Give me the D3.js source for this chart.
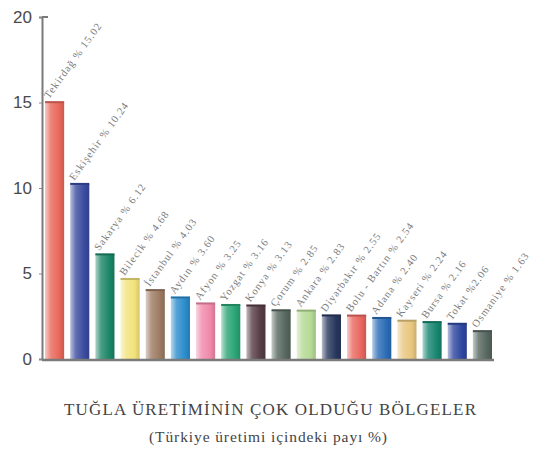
<!DOCTYPE html>
<html>
<head>
<meta charset="utf-8">
<script src="https://cdn.jsdelivr.net/npm/d3@7"></script>
<style>
  body {margin:0; background:#fff;}
  svg {display:block;}
</style>
</head>
<body>
<svg width="546" height="459"></svg>
<script>
// bölgeler ve payları (%)
var regions = ["Tekirdağ", "Eskişehir", "Sakarya", "Bilecik", "İstanbul", "Aydın", "Afyon", "Yozgat", "Konya",
               "Çorum", "Ankara", "Diyarbakır", "Bolu - Bartın", "Adana", "Kayseri", "Bursa", "Tokat", "Osmaniye"];
var shares = [15.02, 10.24, 6.12, 4.68, 4.03, 3.60, 3.25, 3.16, 3.13, 2.85, 2.83, 2.55, 2.54, 2.40, 2.24, 2.16, 2.06, 1.63];
var labels = ["% 15.02", "% 10.24", "% 6.12", "% 4.68", "% 4.03", "% 3.60", "% 3.25", "% 3.16", "% 3.13",
              "% 2.85", "% 2.83", "% 2.55", "% 2.54", "% 2.40", "% 2.24", "% 2.16", "%2.06", "% 1.63"];
var barColors = ["#e8675a", "#3a4a9e", "#1a8566", "#f2e27a", "#9c7a62", "#2a8ccc", "#f088aa", "#2aa474", "#563c44",
                 "#56665f", "#b4da94", "#26365c", "#e8665e", "#2a6cb6", "#e8c67e", "#178670", "#2e46a0", "#56665f"];
var yTicks = [0, 5, 10, 15, 20];

var svg = d3.select("svg");
var plotLeft = 42, plotRight = 494, plotTop = 17, plotBottom = 359;

var x = d3.scaleBand()
    .domain(regions)
    .range([plotLeft + 1, plotRight])
    .paddingInner(0.24)
    .paddingOuter(0.08);

var y = d3.scaleLinear()
    .domain([0, 20])
    .range([plotBottom, plotTop]);

// gradients for the cylinder look
var defs = svg.append("defs");
barColors.forEach(function(c, i) {
  var g = defs.append("linearGradient").attr("id", "g" + i);
  g.append("stop").attr("offset", "0%").attr("stop-color", d3.interpolateRgb(c, "#ffffff")(0.65));
  g.append("stop").attr("offset", "30%").attr("stop-color", d3.interpolateRgb(c, "#ffffff")(0.2));
  g.append("stop").attr("offset", "75%").attr("stop-color", c);
  g.append("stop").attr("offset", "100%").attr("stop-color", d3.color(c).darker(0.4));
});

// axis
var yAxis = d3.axisLeft(y).tickValues(yTicks).tickSize(3).tickPadding(7);
var ga = svg.append("g").attr("transform", "translate(" + plotLeft + ",0)").call(yAxis);
ga.select(".domain").attr("stroke", "#7a7a7a").attr("stroke-width", 2);
ga.selectAll(".tick line").attr("stroke", "#888");
ga.selectAll(".tick text")
  .attr("fill", "#4a4a4a")
  .style("font-family", "'Liberation Sans', Arial, sans-serif")
  .style("font-size", "17px");
svg.append("line")
  .attr("x1", plotLeft).attr("x2", plotLeft + 6)
  .attr("y1", y(20)).attr("y2", y(20))
  .attr("stroke", "#7a7a7a").attr("stroke-width", 2);

// bars
var bars = svg.append("g").selectAll("g")
  .data(regions)
  .enter().append("g");

bars.append("rect")
  .attr("x", function(d) { return x(d); })
  .attr("y", function(d, i) { return y(shares[i]); })
  .attr("width", x.bandwidth())
  .attr("height", function(d, i) { return y(0) - y(shares[i]); })
  .attr("fill", function(d, i) { return "url(#g" + i + ")"; });

bars.append("rect")
  .attr("x", function(d) { return x(d); })
  .attr("y", function(d, i) { return y(shares[i]) - 1; })
  .attr("width", x.bandwidth())
  .attr("height", 2)
  .attr("fill", function(d, i) { return d3.color(barColors[i]).darker(0.6); });

// baseline
svg.append("line")
  .attr("x1", plotLeft).attr("x2", plotRight)
  .attr("y1", plotBottom + 1).attr("y2", plotBottom + 1)
  .attr("stroke", "#7a7a7a").attr("stroke-width", 2.5);

// rotated labels
bars.append("text")
  .attr("transform", function(d, i) {
    return "translate(" + (x(d) + 4) + "," + (y(shares[i]) - 3) + ") rotate(-54)";
  })
  .attr("fill", "#7a7a7a")
  .style("font-family", "'Liberation Serif', 'Times New Roman', serif")
  .style("font-size", "10.5px")
  .style("letter-spacing", "1px")
  .text(function(d, i) { return d + "  " + labels[i]; });

// titles
svg.append("text")
  .attr("x", 270).attr("y", 415)
  .attr("text-anchor", "middle")
  .attr("fill", "#444")
  .attr("textLength", 412)
  .attr("lengthAdjust", "spacing")
  .style("font-family", "'Liberation Serif', 'Times New Roman', serif")
  .style("font-size", "17px")
  .text("TUĞLA ÜRETİMİNİN ÇOK OLDUĞU BÖLGELER");

svg.append("text")
  .attr("x", 268).attr("y", 442)
  .attr("text-anchor", "middle")
  .attr("fill", "#444")
  .attr("textLength", 238)
  .attr("lengthAdjust", "spacing")
  .style("font-family", "'Liberation Serif', 'Times New Roman', serif")
  .style("font-size", "15.5px")
  .text("(Türkiye üretimi içindeki payı %)");
</script>
</body>
</html>
